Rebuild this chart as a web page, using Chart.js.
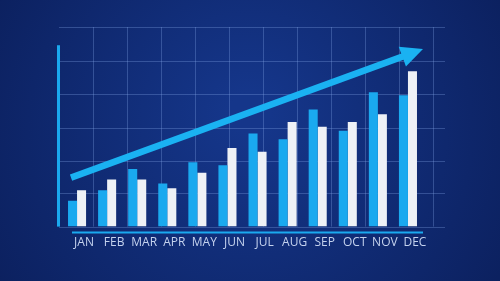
<!DOCTYPE html>
<html><head><meta charset="utf-8">
<script src="https://cdn.jsdelivr.net/npm/chart.js@4/dist/chart.umd.min.js"></script>
<style>html,body{margin:0;padding:0;background:#0f2a72;}#wrap{width:500px;height:281px;position:relative;}</style>
</head><body><div id="wrap"><canvas id="c" width="500" height="281"></canvas></div>
<script>
const months = ["JAN","FEB","MAR","APR","MAY","JUN","JUL","AUG","SEP","OCT","NOV","DEC"];
const blueValues = [27, 38, 60, 45, 67, 64, 97, 91, 122, 100, 140, 137];
const whiteValues = [38, 49, 49, 40, 56, 82, 78, 109, 104, 109, 117, 162];
const gridValues = [0, 35, 68, 103, 138, 173, 208];
const arrowStart = [-0.2, 51];   // [category index, value]
const arrowTip = [11.5, 185];

const deco = {
  id: 'deco',
  beforeDraw(chart) {
    const ctx = chart.ctx, w = chart.width, h = chart.height;
    const g = ctx.createRadialGradient(w*0.5, h*0.4, 20, w*0.5, h*0.5, w*0.62);
    g.addColorStop(0, '#15368a');
    g.addColorStop(1, '#0b1f5c');
    ctx.save();
    ctx.fillStyle = g;
    ctx.fillRect(0, 0, w, h);
    const ys = chart.scales.y;
    const top = ys.getPixelForValue(gridValues[gridValues.length-1]);
    const bottom = ys.getPixelForValue(0);
    const left = chart.chartArea.left - 3;
    const right = chart.chartArea.right + 22;
    ctx.strokeStyle = 'rgba(130,165,230,0.32)';
    ctx.lineWidth = 1;
    ctx.beginPath();
    gridValues.forEach(v => {
      const y = Math.round(ys.getPixelForValue(v)) + 0.5;
      ctx.moveTo(left, y); ctx.lineTo(right, y);
    });
    for (let x = left + 34; x < right - 5; x += 34) {
      const xx = Math.round(x) + 0.5;
      ctx.moveTo(xx, top); ctx.lineTo(xx, bottom);
    }
    ctx.stroke();
    // vertical axis line
    ctx.strokeStyle = '#1aa9ef';
    ctx.lineWidth = 3;
    ctx.beginPath();
    ctx.moveTo(left - 0.5, ys.getPixelForValue(189));
    ctx.lineTo(left - 0.5, bottom);
    ctx.stroke();
    // horizontal axis line
    ctx.lineWidth = 2;
    ctx.beginPath();
    ctx.moveTo(chart.chartArea.left + 10, bottom + 6);
    ctx.lineTo(chart.chartArea.right, bottom + 6);
    ctx.stroke();
    ctx.restore();
  },
  afterDatasetsDraw(chart) {
    const ctx = chart.ctx, xs = chart.scales.x, ys = chart.scales.y;
    const x0 = xs.getPixelForValue(arrowStart[0]), y0 = ys.getPixelForValue(arrowStart[1]);
    const x1 = xs.getPixelForValue(arrowTip[0]), y1 = ys.getPixelForValue(arrowTip[1]);
    const ang = Math.atan2(y1 - y0, x1 - x0);
    const headLen = 22, headHalf = 10.5;
    const bx = x1 - headLen * Math.cos(ang), by = y1 - headLen * Math.sin(ang);
    ctx.save();
    ctx.strokeStyle = '#1ab2f2';
    ctx.fillStyle = '#1ab2f2';
    ctx.lineWidth = 6.5;
    ctx.beginPath();
    ctx.moveTo(x0, y0);
    ctx.lineTo(bx + 3*Math.cos(ang), by + 3*Math.sin(ang));
    ctx.stroke();
    ctx.beginPath();
    ctx.moveTo(x1, y1);
    ctx.lineTo(bx + headHalf*Math.sin(ang), by - headHalf*Math.cos(ang));
    ctx.lineTo(bx - headHalf*Math.sin(ang), by + headHalf*Math.cos(ang));
    ctx.closePath();
    ctx.fill();
    ctx.restore();
  }
};

new Chart(document.getElementById('c'), {
  type: 'bar',
  data: {
    labels: months,
    datasets: [
      { label: 'A', data: blueValues, backgroundColor: '#1aa9ef', borderWidth: 0, categoryPercentage: 0.6, barPercentage: 1.0 },
      { label: 'B', data: whiteValues, backgroundColor: '#eef1f6', borderWidth: 0, categoryPercentage: 0.6, barPercentage: 1.0 }
    ]
  },
  options: {
    responsive: false,
    animation: false,
    layout: { padding: { left: 62, right: 77, top: 27, bottom: 22 } },
    plugins: { legend: { display: false }, tooltip: { enabled: false } },
    scales: {
      x: {
        grid: { display: false, drawTicks: false },
        border: { display: false },
        ticks: { color: '#c4d2ee', font: { family: 'Open Sans', size: 12 }, padding: 9, labelOffset: 7, maxRotation: 0, autoSkip: false }
      },
      y: {
        display: false,
        min: 0, max: 208
      }
    }
  },
  plugins: [deco]
});
</script></body></html>
